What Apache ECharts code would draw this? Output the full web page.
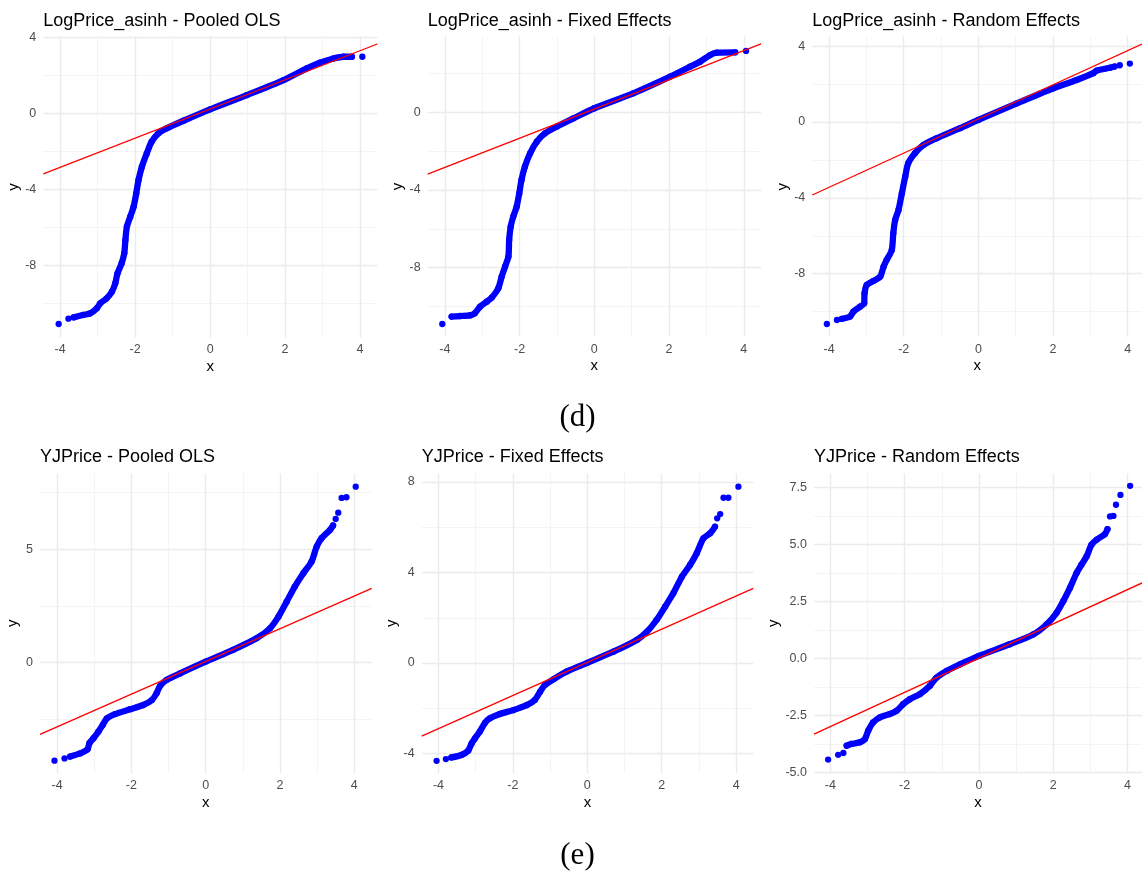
<!DOCTYPE html>
<html><head><meta charset="utf-8">
<script src="https://cdn.jsdelivr.net/npm/echarts@6/dist/echarts.min.js"></script>
<style>html,body{margin:0;padding:0;background:#fff}#c{width:1142px;height:872px}</style>
</head><body><div id="c"></div>
<script>
// ---- Panel titles ----
const titles = ["LogPrice_asinh - Pooled OLS","LogPrice_asinh - Fixed Effects","LogPrice_asinh - Random Effects",
                "YJPrice - Pooled OLS","YJPrice - Fixed Effects","YJPrice - Random Effects"];
const captions = ["(d)", "(e)"];

// ---- LogPrice_asinh - Pooled OLS ----
const lpPooledQ = [-3.64,-3.38,-3.2,-3.02,-2.93,-2.76,-2.62,-2.53,-2.47,-2.36,-2.29,-2.26,-2.22,-2.13,-2.04,-1.97,-1.91,-1.82,-1.69,-1.56,-1.38,-1.16,-0.71,0,0.98,1.96,2.58,2.93,3.29,3.56,3.78];
const lpPooledS = [-10.74,-10.61,-10.53,-10.26,-10.0,-9.74,-9.39,-8.95,-8.42,-7.89,-7.37,-6.67,-5.96,-5.44,-4.91,-4.21,-3.51,-2.81,-2.11,-1.49,-1.05,-0.79,-0.39,0.21,0.96,1.75,2.37,2.67,2.89,2.98,2.98];
const lpPooledTailQ = [-4.04,-3.78,4.06];
const lpPooledTailS = [-11.09,-10.81,2.98];
const lpPooledLine = [[-4.45,-3.19],[4.46,3.65]];

// ---- LogPrice_asinh - Fixed Effects ----
const lpFixedQ = [-3.82,-3.6,-3.33,-3.2,-3.06,-2.88,-2.75,-2.57,-2.48,-2.39,-2.3,-2.28,-2.24,-2.17,-2.08,-2.01,-1.95,-1.86,-1.72,-1.54,-1.32,-1.01,-0.56,0,1.04,2.03,2.56,2.83,3.1,3.28,3.77];
const lpFixedS = [-10.52,-10.49,-10.46,-10.35,-10.01,-9.75,-9.55,-9.06,-8.46,-7.95,-7.43,-6.58,-5.89,-5.37,-4.86,-4.17,-3.48,-2.8,-2.11,-1.51,-1.08,-0.74,-0.31,0.21,0.98,1.84,2.35,2.61,2.95,3.07,3.09];
const lpFixedTailQ = [-4.07,4.06];
const lpFixedTailS = [-10.9,3.16];
const lpFixedLine = [[-4.46,-3.18],[4.46,3.52]];

// ---- LogPrice_asinh - Random Effects ----
const lpRandomQ = [-3.66,-3.44,-3.35,-3.17,-3.06,-3.05,-2.99,-2.81,-2.63,-2.54,-2.46,-2.32,-2.28,-2.23,-2.14,-2.05,-1.96,-1.88,-1.7,-1.47,-1.12,-0.49,0,1.03,2.01,2.63,3.08,3.17,3.53,3.65];
const lpRandomS = [-10.38,-10.26,-10.0,-9.74,-9.56,-9.03,-8.59,-8.38,-8.15,-7.63,-7.28,-6.75,-5.87,-5.17,-4.64,-3.76,-2.88,-2.18,-1.65,-1.21,-0.86,-0.33,0.11,0.98,1.78,2.21,2.57,2.71,2.86,2.92];
const lpRandomTailQ = [-4.06,-3.79,3.79,4.06];
const lpRandomTailS = [-10.65,-10.44,2.99,3.08];
const lpRandomLine = [[-4.45,-3.85],[4.385,4.11]];

// ---- YJPrice - Pooled OLS ----
const yjPooledQ = [-3.65,-3.38,-3.18,-3.13,-3.02,-2.89,-2.77,-2.66,-2.44,-2.04,-1.68,-1.45,-1.32,-1.23,-1.05,-0.69,0,0.74,1.37,1.73,1.96,2.18,2.4,2.63,2.85,2.99,3.12,3.35,3.43];
const yjPooledS = [-4.17,-4.03,-3.85,-3.58,-3.36,-3.07,-2.77,-2.48,-2.29,-2.08,-1.89,-1.67,-1.37,-1.05,-0.78,-0.49,0.03,0.55,1.06,1.5,2.02,2.68,3.35,3.94,4.45,5.12,5.49,5.86,6.05];
const yjPooledTailQ = [-4.07,-3.8,3.5,3.57,3.66,3.79,4.04];
const yjPooledTailS = [-4.35,-4.25,6.34,6.62,7.27,7.3,7.77];
const yjPooledLine = [[-4.46,-3.19],[4.47,3.27]];

// ---- YJPrice - Fixed Effects ----
const yjFixedQ = [-3.65,-3.38,-3.2,-3.11,-3.02,-2.89,-2.75,-2.62,-2.35,-1.99,-1.63,-1.41,-1.27,-1.14,-0.91,-0.56,0,0.7,1.33,1.6,1.86,2.09,2.31,2.54,2.76,2.94,3.12,3.3,3.43];
const yjFixedS = [-4.17,-4.06,-3.87,-3.55,-3.33,-3.03,-2.64,-2.44,-2.25,-2.08,-1.86,-1.63,-1.27,-0.97,-0.72,-0.38,0.01,0.5,1.02,1.38,1.9,2.49,3.08,3.81,4.33,4.85,5.51,5.73,6.02];
const yjFixedTailQ = [-4.05,-3.8,3.49,3.57,3.66,3.79,4.06];
const yjFixedTailS = [-4.32,-4.24,6.39,6.58,7.3,7.3,7.79];
const yjFixedLine = [[-4.45,-3.23],[4.46,3.3]];

// ---- YJPrice - Random Effects ----
const yjRandomQ = [-3.56,-3.43,-3.2,-3.07,-2.98,-2.85,-2.67,-2.4,-2.22,-2.04,-1.86,-1.59,-1.32,-1.14,-0.87,-0.51,0,0.83,1.46,1.82,2.09,2.27,2.45,2.63,2.76,2.9,3.03,3.17,3.39,3.46];
const yjRandomS = [-3.82,-3.74,-3.67,-3.53,-3.16,-2.8,-2.58,-2.43,-2.29,-2.0,-1.78,-1.56,-1.19,-0.83,-0.54,-0.25,0.12,0.63,1.06,1.5,2.01,2.52,3.1,3.76,4.12,4.49,5.0,5.22,5.46,5.68];
const yjRandomTailQ = [-4.06,-3.79,-3.65,3.53,3.62,3.69,3.81,4.07];
const yjRandomTailS = [-4.43,-4.22,-4.14,6.24,6.26,6.75,7.18,7.58];
const yjRandomLine = [[-4.44,-3.31],[4.39,3.32]];

// ---- layout / axis ranges ----
const panels = [
  {q:lpPooledQ, s:lpPooledS, tq:lpPooledTailQ, ts:lpPooledTailS, line:lpPooledLine,
   grid:{left:43.3, top:36.4, width:334, height:301.1}, x:[-4.45,4.46], y:[-11.8,4.05], yi:4, fmt:null},
  {q:lpFixedQ, s:lpFixedS, tq:lpFixedTailQ, ts:lpFixedTailS, line:lpFixedLine,
   grid:{left:427.7, top:36.6, width:333.3, height:300}, x:[-4.46,4.46], y:[-11.55,3.9], yi:4, fmt:null},
  {q:lpRandomQ, s:lpRandomS, tq:lpRandomTailQ, ts:lpRandomTailS, line:lpRandomLine,
   grid:{left:812.3, top:36.6, width:329.7, height:300.1}, x:[-4.45,4.385], y:[-11.32,4.5], yi:4, fmt:null},
  {q:yjPooledQ, s:yjPooledS, tq:yjPooledTailQ, ts:yjPooledTailS, line:yjPooledLine,
   grid:{left:40, top:473.3, width:331.7, height:300}, x:[-4.46,4.47], y:[-4.91,8.36], yi:5, fmt:null},
  {q:yjFixedQ, s:yjFixedS, tq:yjFixedTailQ, ts:yjFixedTailS, line:yjFixedLine,
   grid:{left:421.7, top:473.3, width:331.6, height:300}, x:[-4.45,4.46], y:[-4.87,8.38], yi:4, fmt:null},
  {q:yjRandomQ, s:yjRandomS, tq:yjRandomTailQ, ts:yjRandomTailS, line:yjRandomLine,
   grid:{left:814, top:473.3, width:328, height:300}, x:[-4.44,4.39], y:[-5.03,8.13], yi:2.5, fmt:v=>v.toFixed(1)}
];

const SANS = "Liberation Sans, Arial, Helvetica, sans-serif";
const BLUE = "#0000FF";
const GRID_MAJOR = {color:"#EBEBEB", width:1.4};
const GRID_MINOR = {color:"#EFEFEF", width:0.7};

function axisCommon(name, iv, fmt, isX){
  const a = {
    type:"value", minInterval:iv, maxInterval:iv,
    name:name, nameLocation:"middle", nameGap: isX ? 22 : 20,
    nameTextStyle:{fontFamily:SANS, fontSize:15, color:"#000"},
    axisLine:{show:false}, axisTick:{show:false},
    axisLabel:{showMinLabel:false, showMaxLabel:false, margin: isX ? 6 : 7, color:"#4D4D4D", fontSize:12.5, fontFamily:SANS},
    splitLine:{show:true, showMinLine:false, showMaxLine:false, lineStyle:GRID_MAJOR},
    minorTick:{show:false, splitNumber:2},
    minorSplitLine:{show:true, lineStyle:GRID_MINOR}
  };
  if (fmt) a.axisLabel.formatter = fmt;
  if (!isX) a.nameRotate = 90;
  return a;
}

const grids = [], xAxes = [], yAxes = [], series = [], titleOpts = [];
panels.forEach((p, i) => {
  grids.push(Object.assign({outerBoundsMode:"none", containLabel:false}, p.grid));
  const xa = axisCommon("x", 2, null, true); xa.gridIndex = i; xa.min = p.x[0]; xa.max = p.x[1];
  const ya = axisCommon("y", p.yi, p.fmt, false); ya.gridIndex = i; ya.min = p.y[0]; ya.max = p.y[1];
  xAxes.push(xa); yAxes.push(ya);
  const band = p.q.map((v, k) => [v, p.s[k]]);
  const tail = p.tq.map((v, k) => [v, p.ts[k]]);
  series.push({type:"line", xAxisIndex:i, yAxisIndex:i, data:band, symbol:"none", silent:true,
    smooth:0.25, lineStyle:{color:BLUE, width:6.3, cap:"round", join:"round", opacity:1}, z:2});
  series.push({type:"scatter", xAxisIndex:i, yAxisIndex:i, data:band.concat(tail), symbol:"circle", symbolSize:6.3,
    itemStyle:{color:BLUE, opacity:1}, silent:true, z:3});
  series.push({type:"line", xAxisIndex:i, yAxisIndex:i, data:p.line, symbol:"none", silent:true,
    lineStyle:{color:"#FF0000", width:1.3}, z:4});
  titleOpts.push({text:titles[i], left:p.grid.left, top: i < 3 ? 12.5 : 448, padding:0,
    textStyle:{fontFamily:SANS, fontSize:18, fontWeight:"normal", color:"#000"}});
});

const chart = echarts.init(document.getElementById("c"), null, {renderer:"canvas"});
chart.setOption({
  animation:false,
  backgroundColor:"#fff",
  title:titleOpts,
  grid:grids, xAxis:xAxes, yAxis:yAxes, series:series,
  graphic:[
    {type:"text", x:577.5, y:418, style:{text:captions[0], x:0, y:0, align:"center", verticalAlign:"middle",
      font:"31px 'Liberation Serif', 'Times New Roman', serif", fill:"#000"}},
    {type:"text", x:577.5, y:856, style:{text:captions[1], x:0, y:0, align:"center", verticalAlign:"middle",
      font:"31px 'Liberation Serif', 'Times New Roman', serif", fill:"#000"}}
  ]
});
</script>
</body></html>
